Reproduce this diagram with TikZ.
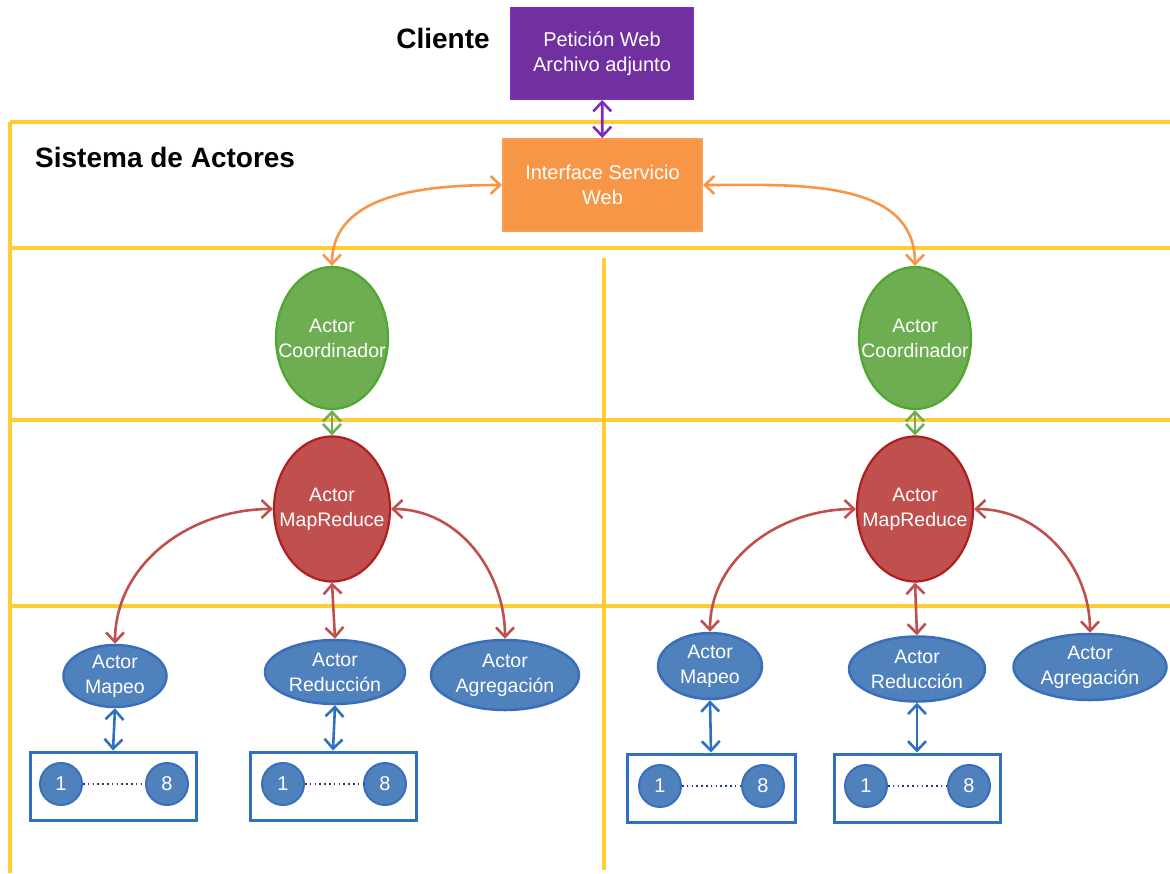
\documentclass[tikz,border=0pt]{standalone}
\usepackage{fontspec}
\setmainfont{Liberation Sans}
\usetikzlibrary{arrows.meta,shapes.geometric}
\definecolor{ylw}{HTML}{FFCC33}
\definecolor{purfill}{HTML}{7030A0}
\definecolor{purline}{HTML}{7A2DB8}
\definecolor{orfill}{HTML}{F79646}
\definecolor{orline}{HTML}{FA9F52}
\definecolor{grfill}{HTML}{6EAD52}
\definecolor{grline}{HTML}{4EA72E}
\definecolor{rdfill}{HTML}{C0504D}
\definecolor{rdline}{HTML}{B01E1E}
\definecolor{blfill}{HTML}{4F81BD}
\definecolor{blline}{HTML}{3A6EBB}
\definecolor{boxline}{HTML}{2F6FC4}
\definecolor{dotc}{HTML}{1F3A78}
\begin{document}
\begin{tikzpicture}[x=1pt,y=-1pt,
  lane/.style={draw=ylw,line width=3.2pt},
  txt/.style={text=white,align=center,font=\fontsize{20}{25}\selectfont},
  smalltxt/.style={text=white,align=center,font=\fontsize{19.5}{25}\selectfont,inner sep=0pt},
  sqbox/.style={txt,draw,line width=2pt,minimum width=182pt,minimum height=91pt,inner sep=0pt},
  coordnode/.style={ellipse,fill=grfill,draw=grline,line width=2.2pt,minimum width=112pt,minimum height=142pt,inner sep=0pt},
  mrnode/.style={ellipse,fill=rdfill,draw=rdline,line width=2.2pt,minimum width=116pt,minimum height=145pt,inner sep=0pt},
  worker/.style={ellipse,fill=blfill,draw=blline,line width=2.5pt,inner sep=0pt},
  grp/.style={draw=boxline,line width=3pt,fill=white,minimum width=166pt,minimum height=68pt,inner sep=0pt},
  num/.style={circle,fill=blfill,draw=blline,line width=2pt,minimum size=42pt,inner sep=0pt,text=white,font=\fontsize{20}{22}\selectfont},
  dots/.style={draw=dotc,line width=2.8pt,dash pattern=on 1.6pt off 3.2pt},
  link/.style={line width=2.6pt,{Straight Barb[length=9.5pt,width=18pt]}-{Straight Barb[length=9.5pt,width=18pt]}},
  title/.style={font=\bfseries\fontsize{28}{32}\selectfont,inner sep=0pt}
]
\useasboundingbox (0,0) rectangle (1170,873);

% swimlane lines
\draw[lane] (10,122) -- (1170,122);
\draw[lane] (10,248) -- (1170,248);
\draw[lane] (10,420) -- (1170,420);
\draw[lane] (10,606) -- (1170,606);
\draw[lane] (10,122) -- (10,873);
\draw[lane] (604,258) -- (604,870);

% titles
\node[title] (cliente) at (443,38) {Cliente};
\node[title,anchor=west] (sistema) at (35,157) {Sistema de Actores};

% top boxes
\node[sqbox,fill=purfill,draw=purline] (peticion) at (602,53.5) {Petición Web\\Archivo adjunto};
\node[sqbox,fill=orfill,draw=orline,minimum width=199pt,minimum height=92pt] (iws) at (602.5,185) {Interface Servicio\\Web};

% coordinators and map-reduce
\node[coordnode] (coordL) at (332,338) {};
\node[smalltxt] (coordLt) at (coordL.center) {Actor\\Coordinador};
\node[coordnode] (coordR) at (915,338) {};
\node[smalltxt] (coordRt) at (coordR.center) {Actor\\Coordinador};
\node[mrnode] (mrL) at (332,509) {};
\node[smalltxt] (mrLt) at (mrL.center) {Actor\\MapReduce};
\node[mrnode] (mrR) at (915,509) {};
\node[smalltxt] (mrRt) at (mrR.center) {Actor\\MapReduce};

% workers left
\node[worker,minimum width=103pt,minimum height=62pt] (mapL) at (115,676) {};
\node[smalltxt] (mapLt) at (mapL.center) {Actor\\Mapeo};
\node[worker,minimum width=140pt,minimum height=64pt] (redL) at (335,672) {};
\node[smalltxt] (redLt) at (redL.center) {Actor\\Reducción};
\node[worker,minimum width=148pt,minimum height=70pt] (aggL) at (505,675) {};
\node[smalltxt] (aggLt) at (aggL.center) {Actor\\Agregación};
% workers right
\node[worker,minimum width=104pt,minimum height=66pt] (mapR) at (710,666) {};
\node[smalltxt] (mapRt) at (mapR.center) {Actor\\Mapeo};
\node[worker,minimum width=136pt,minimum height=65pt] (redR) at (917,669) {};
\node[smalltxt] (redRt) at (redR.center) {Actor\\Reducción};
\node[worker,minimum width=153pt,minimum height=66pt] (aggR) at (1090,667) {};
\node[smalltxt] (aggRt) at (aggR.center) {Actor\\Agregación};

% groups of 1..8
\node[grp] (gML) at (113,786) {};
\node[grp] (gRL) at (333,786) {};
\node[grp,minimum width=168pt] (gMR) at (711,788) {};
\node[grp] (gRR) at (917,788) {};

\node[num] (aML) at (61,784) {1};
\node[num] (bML) at (167,784) {8};
\node[num] (aRL) at (283,784) {1};
\node[num] (bRL) at (385,784) {8};
\node[num] (aMR) at (660,786) {1};
\node[num] (bMR) at (763,786) {8};
\node[num] (aRR) at (866,786) {1};
\node[num] (bRR) at (969,786) {8};

\draw[dots] (aML) -- (bML);
\draw[dots] (aRL) -- (bRL);
\draw[dots] (aMR) -- (bMR);
\draw[dots] (aRR) -- (bRR);

% connectors
\draw[link,draw=purline] (peticion) -- (iws);
\draw[link,draw=orfill] (iws.west) to[out=180,in=90] (coordL.north);
\draw[link,draw=orfill] (iws.east) to[out=0,in=90] (coordR.north);
\draw[link,draw=grfill] (coordL) -- (mrL);
\draw[link,draw=grfill] (coordR) -- (mrR);

\draw[link,draw=rdfill] (mrL.west) to[out=180,in=90] (mapL.north);
\draw[link,draw=rdfill] (mrL.south) -- (redL.north);
\draw[link,draw=rdfill] (mrL.east) to[out=0,in=90] (aggL.north);
\draw[link,draw=rdfill] (mrR.west) to[out=180,in=90] (mapR.north);
\draw[link,draw=rdfill] (mrR.south) -- (redR.north);
\draw[link,draw=rdfill] (mrR.east) to[out=0,in=90] (aggR.north);

\draw[link,draw=boxline] (mapL.south) -- (gML.north);
\draw[link,draw=boxline] (redL.south) -- (gRL.north);
\draw[link,draw=boxline] (mapR.south) -- (gMR.north);
\draw[link,draw=boxline] (redR.south) -- (gRR.north);
\end{tikzpicture}
\end{document}
